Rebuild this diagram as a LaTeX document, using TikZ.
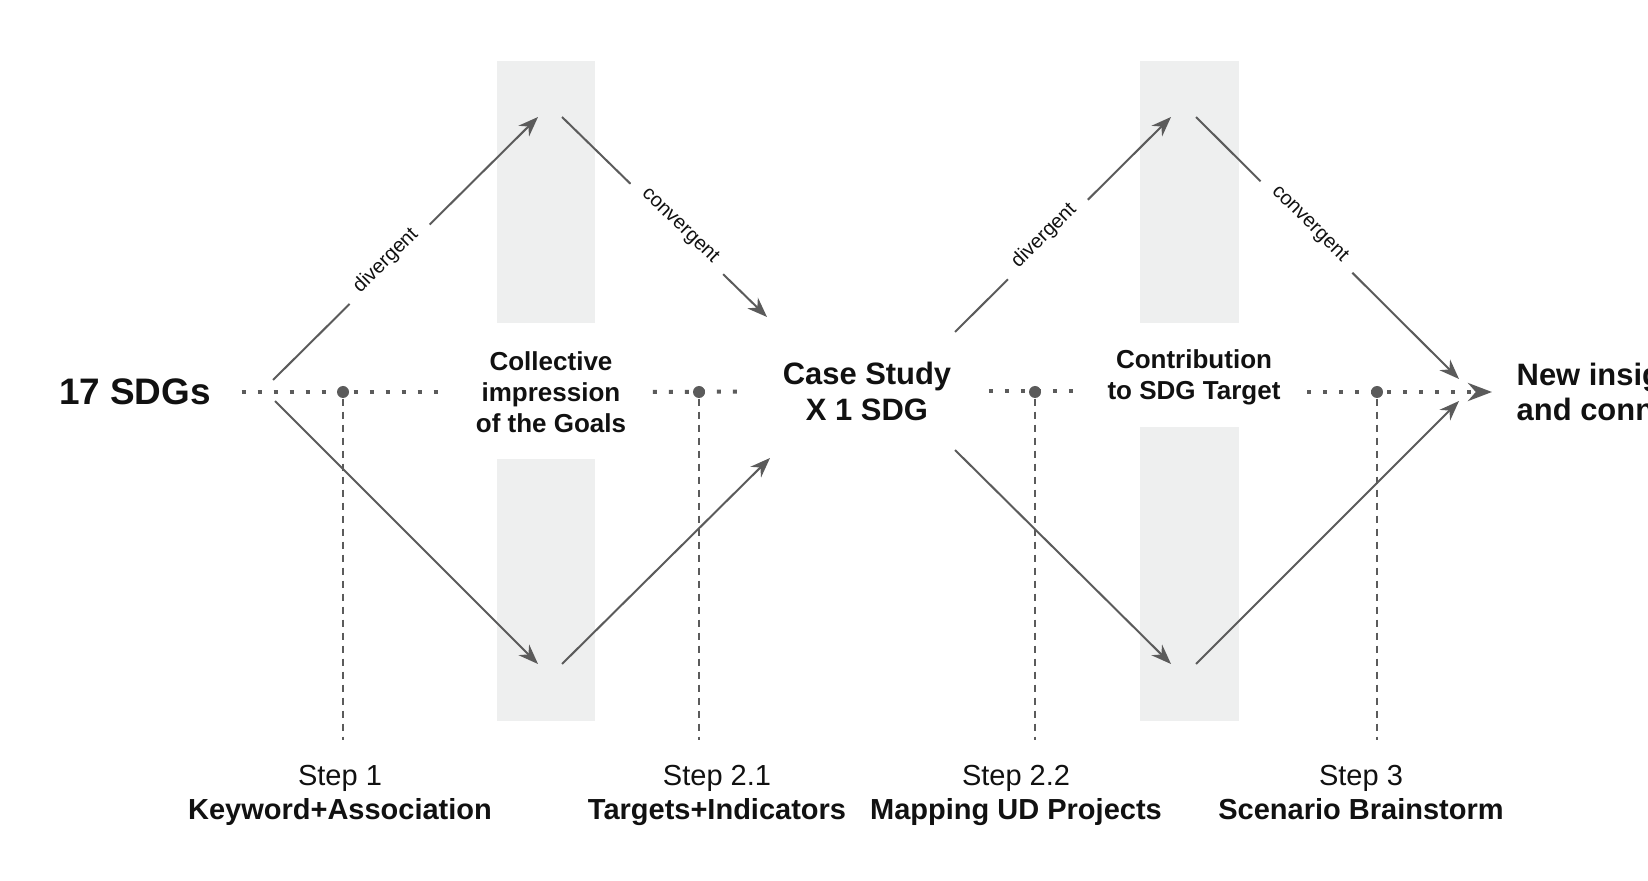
\documentclass[tikz,border=0pt]{standalone}
\usepackage{fontspec}
\setmainfont{Liberation Sans}
\usetikzlibrary{arrows.meta}

\definecolor{linegray}{HTML}{5B5B5B}
\definecolor{bandgray}{HTML}{EEEFEF}
\definecolor{inkblack}{HTML}{111111}

\begin{document}
\begin{tikzpicture}[
  bigtitle/.style={font=\fontsize{10.5}{12}\selectfont\bfseries, text=inkblack, inner xsep=3mm},
  title/.style={align=center, font=\fontsize{8.8}{10.2}\selectfont\bfseries, text=inkblack, inner xsep=3.7mm},
  phase/.style={align=center, font=\fontsize{7.4}{8.8}\selectfont\bfseries, text=inkblack, inner xsep=2.6mm},
  steplabel/.style={align=center, font=\fontsize{8.25}{9.7}\selectfont, text=inkblack, text depth=0.6mm},
  stepdot/.style={circle, fill=linegray, inner sep=0pt, minimum size=1.2mm},
  flow/.style={->, linegray, line width=0.2mm},
  flowlabel/.style={sloped, anchor=base, fill=white, inner xsep=1.5mm, inner ysep=0.6mm, font=\fontsize{5.7}{6.5}\selectfont, text=inkblack},
  axis/.style={linegray, line width=0.4mm, dash pattern=on 0.4mm off 1.2mm},
  guide/.style={linegray, line width=0.2mm, dash pattern=on 0.75mm off 0.55mm, shorten >=1.2mm},
  band/.style={fill=bandgray},
  >={Stealth[length=2mm, width=1.5mm]}
]
\useasboundingbox (0,0) rectangle (16.48,8.80);
\clip (0,0) rectangle (16.48,8.80);

% grey bands behind the two diamonds
\fill[band] (4.97,5.57) rectangle (5.95,8.19);
\fill[band] (4.97,1.59) rectangle (5.95,4.21);
\fill[band] (11.40,5.57) rectangle (12.39,8.19);
\fill[band] (11.40,1.59) rectangle (12.39,4.53);

\node[bigtitle] (sdgs) at (1.35,4.88) {17 SDGs};
\node[phase] (collective) at (5.51,4.88) {Collective\\impression\\of the Goals};
\node[title] (casestudy) at (8.67,4.885) {Case Study\\X 1 SDG};
\node[phase] (contribution) at (11.94,5.03) {Contribution\\to SDG Target};
\node[title, align=left, anchor=west, inner xsep=2.4mm] (insights) at (14.92,4.88) {New insights\\and connections};

\node[stepdot] (dot1) at (3.43,4.88) {};
\node[stepdot] (dot21) at (6.99,4.88) {};
\node[stepdot] (dot22) at (10.35,4.88) {};
\node[stepdot] (dot3) at (13.77,4.88) {};

\node[steplabel] (step1) at (3.40,0.85) {Step 1\\\textbf{Keyword+Association}};
\node[steplabel] (step21) at (7.17,0.85) {Step 2.1\\\textbf{Targets+Indicators}};
\node[steplabel] (step22) at (10.16,0.85) {Step 2.2\\\textbf{Mapping UD Projects}};
\node[steplabel] (step3) at (13.61,0.85) {Step 3\\\textbf{Scenario Brainstorm}};

% corners of the diamonds
\coordinate (open1up) at (2.73,5.00);
\coordinate (open1down) at (2.75,4.79);
\coordinate (top1in) at (5.38,7.63);
\coordinate (top1out) at (5.62,7.63);
\coordinate (bot1in) at (5.38,2.16);
\coordinate (bot1out) at (5.62,2.16);
\coordinate (close1up) at (7.67,5.63);
\coordinate (close1down) at (7.70,4.22);
\coordinate (open2up) at (9.55,5.48);
\coordinate (open2down) at (9.55,4.30);
\coordinate (top2in) at (11.71,7.63);
\coordinate (top2out) at (11.96,7.63);
\coordinate (bot2in) at (11.71,2.16);
\coordinate (bot2out) at (11.96,2.16);
\coordinate (close2up) at (14.59,5.01);
\coordinate (close2down) at (14.59,4.79);

% dotted time axis
\draw[axis] (sdgs.east) -- (collective.west);
\draw[axis] (collective.east) -- (casestudy.west);
\draw[axis] (casestudy.east) -- (casestudy.east -| contribution.west);
\draw[axis, -{Stealth[length=2.4mm, width=1.8mm]}] (contribution.east |- insights.west) -- (insights.west);

\draw[guide] (dot1) -- (dot1 |- step1.north);
\draw[guide] (dot21) -- (dot21 |- step21.north);
\draw[guide] (dot22) -- (dot22 |- step22.north);
\draw[guide] (dot3) -- (dot3 |- step3.north);

\draw[flow] (open1up) -- node[flowlabel, pos=0.44] {divergent} (top1in);
\draw[flow] (top1out) -- node[flowlabel, pos=0.56] {convergent} (close1up);
\draw[flow] (open1down) -- (bot1in);
\draw[flow] (bot1out) -- (close1down);
\draw[flow] (open2up) -- node[flowlabel, pos=0.43] {divergent} (top2in);
\draw[flow] (top2out) -- node[flowlabel, pos=0.42] {convergent} (close2up);
\draw[flow] (open2down) -- (bot2in);
\draw[flow] (bot2out) -- (close2down);

\end{tikzpicture}
\end{document}
